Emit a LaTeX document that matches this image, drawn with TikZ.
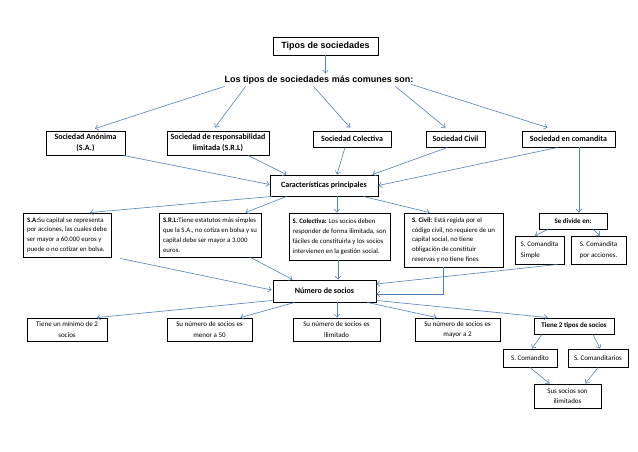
\documentclass[tikz,border=0pt]{standalone}
\usepackage{fontspec}
\setmainfont{Carlito}
\newfontfamily\arialf{Liberation Sans}
\usetikzlibrary{arrows.meta,calc}
\definecolor{linec}{RGB}{79,129,189}
\begin{document}
\begin{tikzpicture}[x=1pt,y=-1pt,
  box/.style={draw=black,line width=0.9pt,inner sep=0pt,align=center,font=\fontsize{8}{11}\selectfont\bfseries},
  desc/.style={draw=black,line width=0.9pt,inner sep=0pt,align=left,font=\fontsize{6.8}{9.8}\selectfont},
  small/.style={draw=black,line width=0.9pt,inner sep=0pt,align=center,font=\fontsize{7}{10.5}\selectfont},
  arr/.style={draw=linec,line width=0.6pt,-{Straight Barb[length=3pt,width=5.5pt]}}]
\useasboundingbox (0,0) rectangle (638,452);
\fill[white] (0,0) rectangle (638,452);

% top
\node[box,font=\arialf\fontsize{9}{11}\selectfont\bfseries,minimum width=105pt,minimum height=18pt] (tipos) at (325.5,46) {Tipos de sociedades};
\node[inner sep=2pt,font=\arialf\fontsize{9}{11}\selectfont\bfseries] (los) at (319,80) {Los tipos de sociedades más comunes son:};

% row 1
\node[box,minimum width=79pt,minimum height=24pt] (sa) at (85.5,143) {Sociedad Anónima\\(S.A.)};
\node[box,minimum width=102pt,minimum height=24pt] (srl) at (218,143) {Sociedad de responsabilidad\\limitada (S.R.L)};
\node[box,minimum width=78pt,minimum height=16pt] (col) at (352,139) {Sociedad Colectiva};
\node[box,minimum width=59pt,minimum height=16pt] (civ) at (455.5,139) {Sociedad Civil};
\node[box,minimum width=93pt,minimum height=16pt] (com) at (568.5,139) {Sociedad en comandita};

\node[box,minimum width=108pt,minimum height=21pt] (car) at (324,185.5) {Características principales};

% descriptions
\node[desc,minimum width=88pt,minimum height=44pt] (dsa) at (67,235) {\textbf{S.A:}Su capital se representa\\por acciones, las cuales debe\\ser mayor a 60.000 euros y\\puede o no cotizar en bolsa.};
\node[desc,minimum width=102pt,minimum height=44pt] (dsrl) at (210,235) {\textbf{S.R.L:}Tiene estatutos más simples\\que la S.A., no cotiza en bolsa y su\\capital debe ser mayor a 3.000\\euros.};
\node[desc,minimum width=101pt,minimum height=47pt] (dcol) at (339.5,236.5) {\textbf{S. Colectiva:} Los socios deben\\responder de forma ilimitada, son\\fáciles de constituirla y los socios\\intervienen en la gestión social.};
\node[desc,minimum width=99pt,minimum height=54pt] (dciv) at (453.5,240) {\textbf{S. Civil:} Está regida por el\\código civil, no requiere de un\\capital social, no tiene\\obligación de constituir\\reservas y no tiene fines};
\node[small,font=\fontsize{7}{10}\selectfont\bfseries,minimum width=68pt,minimum height=16pt] (div) at (573,221) {Se divide en:};
\node[desc,minimum width=49pt,minimum height=28pt,font=\fontsize{7}{10.5}\selectfont] (cs) at (539.5,250) {S. Comandita\\Simple};
\node[small,minimum width=55pt,minimum height=28pt] (cpa) at (598.5,250) {S. Comandita\\por acciones.};

\node[box,minimum width=103pt,minimum height=22pt] (num) at (324.5,291) {Número de socios};

% bottom row
\node[small,minimum width=80pt,minimum height=23pt] (b1) at (67,329.5) {Tiene un mínimo de 2\\socios};
\node[small,minimum width=85pt,minimum height=23pt] (b2) at (209.5,329.5) {Su número de socios es\\menor a 50};
\node[small,minimum width=87pt,minimum height=23pt] (b3) at (336.5,329.5) {Su número de socios es\\ilimitado};
\node[small,minimum width=85pt,minimum height=23pt] (b4) at (457.5,329.5) {Su número de socios es\\mayor a 2};
\node[small,font=\fontsize{7}{10}\selectfont\bfseries,minimum width=80pt,minimum height=16pt] (b5) at (574,326) {Tiene 2 tipos de socios};
\node[small,minimum width=54pt,minimum height=18pt] (cto) at (530,358) {S. Comandito};
\node[small,minimum width=60pt,minimum height=18pt] (ctr) at (598,358) {S. Comanditarios};
\node[small,minimum width=67pt,minimum height=24pt] (sus) at (567.5,396) {Sus socios son\\ilimitados};

% connectors
\draw[arr] (tipos.south) -- (tipos.south |- los.north);
\draw[arr] ($(los.south west)+(2,0)$) -- ($(sa.north)+(9.5,-2)$);
\draw[arr] ($(los.south west)+(23,0)$) -- ($(srl.north)+(-3,-3)$);
\draw[arr] ($(los.south west)+(91,0)$) -- ($(col.north)+(-2,-3)$);
\draw[arr] ($(los.south east)+(-20,0)$) -- ($(civ.north)+(-10,-3)$);
\draw[arr] ($(los.south east)+(-4,-2)$) -- ($(com.north)+(-21,-3)$);

\draw[arr] ($(sa.south east)+(-2,0)$) -- ($(car.west)+(0,-1)$);
\draw[arr] ($(srl.south)+(30,0)$) -- ($(car.north west)+(17,0)$);
\draw[arr] ($(col.south)+(-7,0)$) -- ($(car.north)+(13,0)$);
\draw[arr] ($(civ.south)+(-8,0)$) -- ($(car.north east)+(-6,0)$);
\draw[arr] ($(com.south)+(-11,0)$) -- (car.east);
\coordinate (c1) at ($(com.south)+(10.5,0)$);
\draw[arr] (c1) -- (c1 |- div.north);

\draw[arr] ($(car.south west)+(2,0)$) -- ($(dsa.north)+(23,0)$);
\draw[arr] ($(car.south west)+(17,0)$) -- ($(dsrl.north east)+(-16,0)$);
\coordinate (c2) at ($(car.south)+(13,0)$);
\draw[arr] (c2) -- (c2 |- dcol.north);
\draw[arr] ($(car.south east)+(-15,0)$) -- ($(dciv.north west)+(26,0)$);
\draw[arr] ($(div.south)+(-25,0)$) -- ($(cs.north)+(-4.5,0)$);
\draw[arr] ($(div.south)+(20,0)$) -- ($(cpa.north)+(1.5,0)$);

\draw[arr] ($(dsa.south east)+(9,1)$) -- ($(num.west)+(-1,-1)$);
\draw[arr] ($(dsrl.south east)+(-11,0)$) -- ($(num.north west)+(20,0)$);
\coordinate (c3) at ($(dcol.south)+(-1.5,0)$);
\draw[arr] (c3) -- (c3 |- num.north);
\draw[arr] ($(cs.south east)+(-7,0)$) -- ($(num.east)+(0,-7)$);
\coordinate (c4) at ($(dciv.south)+(-10.5,0)$);
\draw[arr] (c4) |- ($(num.east)+(0,3)$);

\draw[arr] ($(num.south west)+(0,-2)$) -- ($(b1.north)+(30,0)$);
\draw[arr] ($(num.south west)+(22,0)$) -- ($(b2.north east)+(-12,0)$);
\coordinate (c5) at ($(num.south)+(12.5,0)$);
\draw[arr] (c5) -- (c5 |- b3.north);
\draw[arr] ($(num.south east)+(-9,0)$) -- ($(b4.north west)+(22,0)$);
\draw[arr] ($(num.south east)+(0,-2)$) -- ($(b5.north west)+(14,0)$);
\draw[arr] ($(b5.south)+(-32,0)$) -- ($(cto.north)+(2,0)$);
\draw[arr] ($(b5.south)+(19,0)$) -- ($(ctr.north)+(2,0)$);
\draw[arr] (cto.south) -- ($(sus.north west)+(16,0)$);
\draw[arr] (ctr.south) -- ($(sus.north east)+(-16,0)$);
\end{tikzpicture}
\end{document}
